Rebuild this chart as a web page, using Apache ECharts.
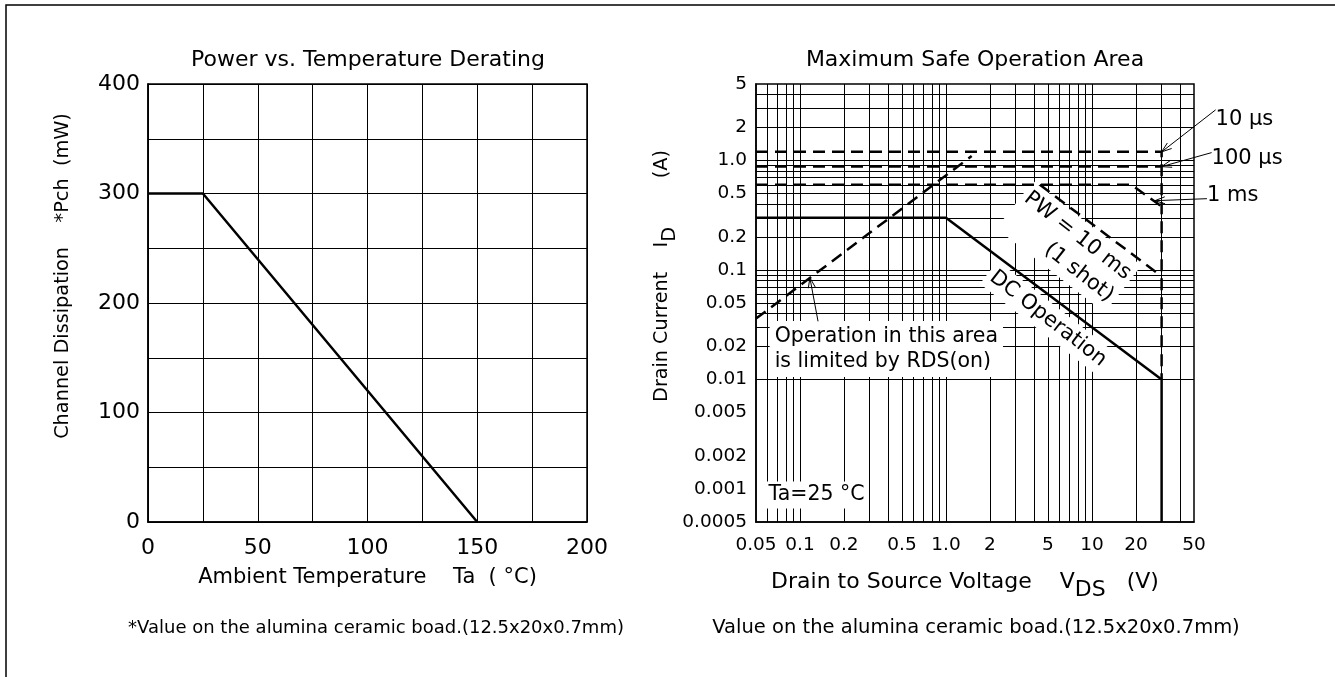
<!DOCTYPE html>
<html><head><meta charset="utf-8">
<script src="https://cdn.jsdelivr.net/npm/echarts@6/dist/echarts.min.js"></script>
<style>html,body{margin:0;padding:0;background:#fff}#c{width:1335px;height:677px}</style>
</head><body><div id="c"></div>
<script>
// ---------- Left chart: Power vs. Temperature Derating ----------
const tempC = [0, 25, 150];
const powerMW = [300, 300, 0];
const leftXLabels = [0, 50, 100, 150, 200];
const leftYLabels = [0, 100, 200, 300, 400];

// ---------- Right chart: Maximum Safe Operation Area ----------
const dcV = [0.05, 1.0, 30, 30];
const dcI = [0.3, 0.3, 0.01, 0.0005];
const pw10usV = [0.05, 30, 30];
const pw10usI = [1.2, 1.2, 0.01];
const pw100usV = [0.05, 30];
const pw100usI = [0.88, 0.88];
const pw1msV = [0.05, 18.7, 30];
const pw1msI = [0.6, 0.6, 0.38];
const pw10msV = [4.4, 28];
const pw10msI = [0.6, 0.094];
const rdsV = [0.05, 1.5];
const rdsI = [0.036, 1.1];

const xTickValues = [0.05, 0.1, 0.2, 0.5, 1, 2, 5, 10, 20, 50];
const xTickLabels = ['0.05', '0.1', '0.2', '0.5', '1.0', '2', '5', '10', '20', '50'];
const yTickValues = [5, 2, 1, 0.5, 0.2, 0.1, 0.05, 0.02, 0.01, 0.005, 0.002, 0.001, 0.0005];
const yTickLabels = ['5', '2', '1.0', '0.5', '0.2', '0.1', '0.05', '0.02', '0.01', '0.005', '0.002', '0.001', '0.0005'];
const xGridValues = [0.06, 0.07, 0.08, 0.09, 0.1, 0.2, 0.3, 0.4, 0.5, 0.6, 0.7, 0.8, 0.9, 1, 2, 3, 4, 5, 6, 7, 8, 9, 10, 20, 30, 40];
const yGridValues = [0.0006, 0.0007, 0.0008, 0.0009, 0.001, 0.002, 0.003, 0.004, 0.005, 0.006, 0.007, 0.008, 0.009,
  0.01, 0.02, 0.03, 0.04, 0.05, 0.06, 0.07, 0.08, 0.09, 0.1, 0.2, 0.3, 0.4, 0.5, 0.6, 0.7, 0.8, 0.9, 1, 2, 3, 4];

const FONT = '"DejaVu Sans", "Liberation Sans", Arial, sans-serif';
function pts(xs, ys) { return xs.map((x, i) => [x, ys[i]]); }
const solid = { color: '#000', width: 2.5 };
const dashed = { color: '#000', width: 2.5, type: [12, 7] };
function lineSeries(name, data, style) {
  return { name, type: 'line', xAxisIndex: 1, yAxisIndex: 1, data, symbol: 'none', lineStyle: style, z: 4, silent: true };
}
const nameRich = (size) => ({
  a: { fontSize: size, fontFamily: FONT, color: '#000', verticalAlign: 'top' },
  s: { fontSize: size, fontFamily: FONT, color: '#000', verticalAlign: 'top', padding: [8, 0, 0, 0] }
});
const labelScatter = (name, z, data, label) => ({
  name, type: 'scatter', xAxisIndex: 1, yAxisIndex: 1, symbolSize: 0, clip: false, silent: true, z,
  itemStyle: { opacity: 1, color: '#000' }, emphasis: { disabled: true }, data,
  label: Object.assign({ show: true, color: '#000', opacity: 1, fontFamily: FONT }, label)
});

const chart = echarts.init(document.getElementById('c'), null, { renderer: 'canvas' });
const option = {
  animation: false,
  backgroundColor: '#fff',
  textStyle: { fontFamily: FONT, color: '#000' },
  grid: [
    { left: 148, right: 748, top: 84, bottom: 155, show: true, borderColor: '#000', borderWidth: 1.5, backgroundColor: 'transparent' },
    { left: 756, right: 141, top: 84, bottom: 155, show: true, borderColor: '#000', borderWidth: 1.5, backgroundColor: 'transparent' }
  ],
  xAxis: [
    { gridIndex: 0, type: 'value', min: 0, max: 200, interval: 25,
      name: 'Ambient Temperature    Ta  ( °C)', nameLocation: 'middle', nameGap: 45,
      nameTextStyle: { fontSize: 21, color: '#000', fontFamily: FONT },
      axisLine: { show: true, lineStyle: { color: '#000', width: 1.5 } }, axisTick: { show: false },
      splitLine: { show: true, lineStyle: { color: '#000', width: 1 } },
      axisLabel: { fontSize: 22, color: '#000', margin: 15, fontFamily: FONT,
        formatter: v => leftXLabels.includes(v) ? String(v) : '' } },
    { gridIndex: 1, type: 'log', logBase: 10, min: 0.05, max: 50,
      name: '{a|Drain to Source Voltage    V}{s|DS}{a|   (V)}', nameLocation: 'middle', nameGap: 49,
      nameTextStyle: { fontSize: 22, color: '#000', fontFamily: FONT, padding: [0, 20, 0, 0], rich: nameRich(22) },
      axisLine: { show: true, lineStyle: { color: '#000', width: 1.5 } }, axisTick: { show: false },
      splitLine: { show: false }, axisLabel: { show: false } }
  ],
  yAxis: [
    { gridIndex: 0, type: 'value', min: 0, max: 400, interval: 50,
      name: 'Channel Dissipation    *Pch  (mW)', nameLocation: 'middle', nameGap: 76,
      nameTextStyle: { fontSize: 19.3, color: '#000', fontFamily: FONT, padding: [0, 0, 0, 54] },
      axisLine: { show: true, lineStyle: { color: '#000', width: 1.5 } }, axisTick: { show: false },
      splitLine: { show: true, lineStyle: { color: '#000', width: 1 } },
      axisLabel: { fontSize: 22, color: '#000', margin: 8, fontFamily: FONT,
        formatter: v => leftYLabels.includes(v) ? String(v) : '' } },
    { gridIndex: 1, type: 'log', logBase: 10, min: 0.0005, max: 5,
      name: '{a|Drain Current    I}{s|D}{a|        (A)}', nameLocation: 'middle', nameGap: 76,
      nameTextStyle: { fontSize: 19.2, color: '#000', fontFamily: FONT, padding: [0, 0, 0, 54], rich: nameRich(19.2) },
      axisLine: { show: true, lineStyle: { color: '#000', width: 1.5 } }, axisTick: { show: false },
      splitLine: { show: false }, axisLabel: { show: false } }
  ],
  series: [
    { name: 'Pch', type: 'line', xAxisIndex: 0, yAxisIndex: 0, data: pts(tempC, powerMW), symbol: 'none',
      lineStyle: solid, z: 4, silent: true },
    // log grid lines
    { name: 'grid', type: 'line', xAxisIndex: 1, yAxisIndex: 1, data: [], z: 1, silent: true,
      markLine: { z: 1, silent: true, symbol: ['none', 'none'], label: { show: false }, animation: false,
        lineStyle: { color: '#000', width: 1, type: 'solid' }, emphasis: { disabled: true },
        data: xGridValues.map(v => ({ xAxis: v })).concat(yGridValues.map(v => ({ yAxis: v }))) } },
    lineSeries('DC Operation', pts(dcV, dcI), solid),
    lineSeries('10 µs', pts(pw10usV, pw10usI), dashed),
    lineSeries('100 µs', pts(pw100usV, pw100usI), dashed),
    lineSeries('1 ms', pts(pw1msV, pw1msI), dashed),
    lineSeries('PW = 10 ms', pts(pw10msV, pw10msI), dashed),
    lineSeries('RDS(on)', pts(rdsV, rdsI), dashed),
    // tick labels on log axes
    labelScatter('xTicks', 5,
      xTickValues.map((v, i) => ({ value: [v, 0.0005], label: { formatter: xTickLabels[i] } })),
      { position: 'bottom', distance: 14, fontSize: 18.5 }),
    labelScatter('yTicks', 5,
      yTickValues.map((v, i) => ({ value: [0.05, v], label: { formatter: yTickLabels[i] } })),
      { position: 'left', distance: 9, fontSize: 18.5 }),
    // annotations (white boxes hide grid lines, drawn under the curves)
    labelScatter('notes', 2, [
        { value: [0.062, 0.019], label: { formatter: 'Operation in this area\nis limited by RDS(on)', position: 'right', distance: 0, align: 'left', padding: [3, 5, 3, 5] } },
        { value: [5, 0.036], label: { formatter: 'DC Operation', rotate: -38, fontSize: 21 } },
        { value: [16.3, 0.067], label: { formatter: 'PW = 10 ms\n(1 shot)', rotate: -38, align: 'right', fontSize: 21, lineHeight: 28 } },
        { value: [0.13, 0.00088], label: { formatter: 'Ta=25 °C', padding: [1, 4, 1, 4] } }
      ],
      { position: 'inside', fontSize: 20.5, backgroundColor: '#fff', lineHeight: 25, padding: [2, 4, 2, 4] })
  ]
};
chart.setOption(option);

// ---------- decorations: titles, footnotes, frame, leader arrows ----------
function px(v) { return chart.convertToPixel({ gridIndex: 1 }, v); }
function arrow(tail, tip) {
  const dx = tip[0] - tail[0], dy = tip[1] - tail[1];
  const L = Math.hypot(dx, dy), ux = dx / L, uy = dy / L;
  const a = 10, w = 3.5;
  const b = [tip[0] - ux * a, tip[1] - uy * a];
  return [
    { type: 'line', shape: { x1: tail[0], y1: tail[1], x2: tip[0], y2: tip[1] }, style: { stroke: '#000', lineWidth: 1 }, z: 10 },
    { type: 'polyline', shape: { points: [[b[0] - uy * w, b[1] + ux * w], tip, [b[0] + uy * w, b[1] - ux * w]] },
      style: { stroke: '#000', lineWidth: 1, fill: null }, z: 10 }
  ];
}
function txt(text, x, y, size, align) {
  return { type: 'text', z: 10, style: { text, x, y, fill: '#000', font: size + 'px ' + FONT, align: align || 'center', verticalAlign: 'middle' } };
}
const t10 = px([30, 1.2]), t100 = px([30, 0.88]), t1ms = px([27, 0.43]);
const rdsTip = px([0.117, 0.085]), rdsTail = px([0.133, 0.034]);
const g = [
  { type: 'polyline', shape: { points: [[6, 677], [6, 5], [1335, 5]] }, style: { stroke: '#000', lineWidth: 1.5, fill: null } },
  txt('Power vs. Temperature Derating', 368, 60, 22),
  txt('Maximum Safe Operation Area', 975, 60, 22),
  txt('*Value on the alumina ceramic boad.(12.5x20x0.7mm)', 376, 628, 18),
  txt('Value on the alumina ceramic boad.(12.5x20x0.7mm)', 976, 628, 19.5),
  txt('10 µs', t10[0] + 54, t10[1] - 32, 21, 'left'),
  txt('100 µs', t100[0] + 50, t100[1] - 8, 21, 'left'),
  txt('1 ms', t1ms[0] + 52, t1ms[1] - 5, 21, 'left')
].concat(arrow([t10[0] + 54, t10[1] - 42], t10))
 .concat(arrow([t100[0] + 50, t100[1] - 14], t100))
 .concat(arrow([t1ms[0] + 52, t1ms[1] - 2], t1ms))
 .concat(arrow(rdsTail, rdsTip));
chart.setOption({ graphic: g });
</script></body></html>
